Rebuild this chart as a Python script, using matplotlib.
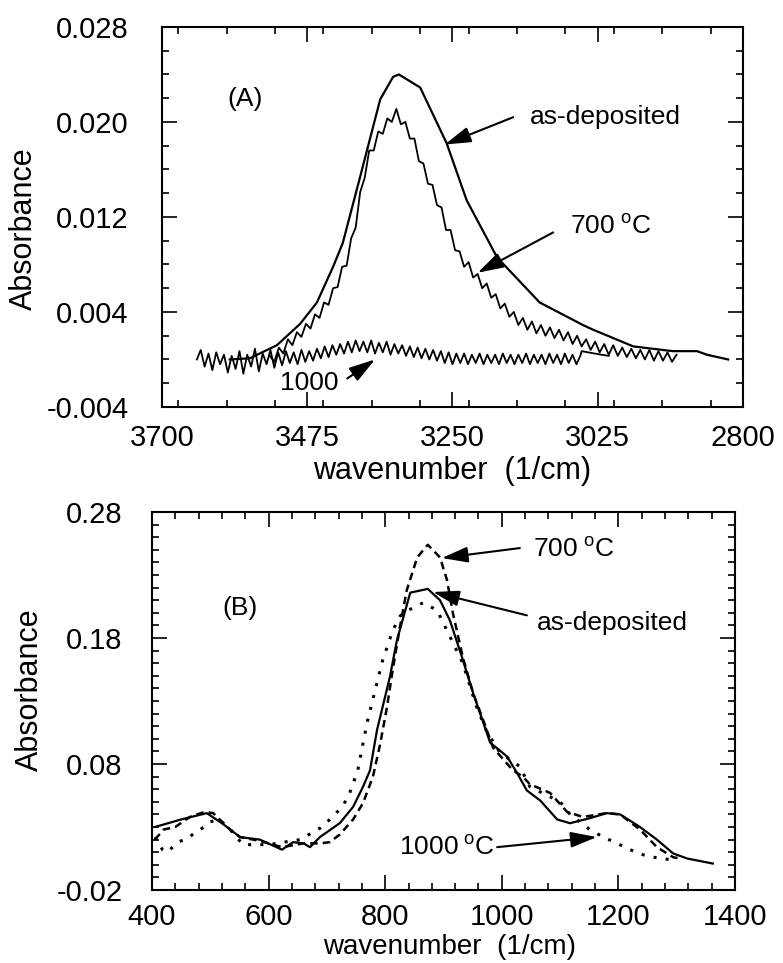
"""
Absorbance spectra of the film, as-deposited and after annealing.
(A) 3700-2800 1/cm stretch band, (B) 400-1400 1/cm region.
"""
import numpy as np
import matplotlib.pyplot as plt
from matplotlib.ticker import MultipleLocator, FormatStrFormatter

plt.rcParams['font.family'] = ['Liberation Sans', 'DejaVu Sans']
plt.rcParams['mathtext.default'] = 'regular'
plt.rcParams['axes.unicode_minus'] = False

# ---------------- panel A ----------------
a_wn_asdep = [3595, 3564, 3522, 3486, 3460, 3435, 3420, 3393, 3362, 3342, 3333,
              3300, 3259, 3228, 3181, 3115, 3048, 3032, 2970, 2909, 2871, 2856, 2823]
a_abs_asdep = [0.0000, 0.0001, 0.0012, 0.0030, 0.0048, 0.0078, 0.0098, 0.0154, 0.0219,
               0.0238, 0.0240, 0.0229, 0.0182, 0.0134, 0.0086, 0.0048, 0.0029, 0.0025,
               0.0011, 0.0007, 0.0007, 0.0004, 0.0000]

# 700 C spectrum, one reading every 7 1/cm from 3533 down to 2903
a_wn_700_range = (3533, 2903)
a_abs_700 = [0.0003, -0.0002, 0.0010, 0.0005, 0.0017, 0.0012, 0.0023, 0.0019, 0.0030, 0.0026,
             0.0038, 0.0035, 0.0048, 0.0046, 0.0060, 0.0061, 0.0078, 0.0079, 0.0102, 0.0111,
             0.0141, 0.0153, 0.0176, 0.0176, 0.0192, 0.0190, 0.0203, 0.0200, 0.0211, 0.0198,
             0.0200, 0.0186, 0.0186, 0.0167, 0.0165, 0.0148, 0.0147, 0.0130, 0.0128, 0.0109,
             0.0109, 0.0092, 0.0091, 0.0078, 0.0082, 0.0069, 0.0072, 0.0060, 0.0064, 0.0052,
             0.0055, 0.0043, 0.0047, 0.0036, 0.0040, 0.0029, 0.0035, 0.0025, 0.0032, 0.0022,
             0.0029, 0.0020, 0.0027, 0.0018, 0.0025, 0.0016, 0.0023, 0.0013, 0.0020, 0.0011,
             0.0017, 0.0008, 0.0015, 0.0006, 0.0013, 0.0004, 0.0012, 0.0003, 0.0010, 0.0002,
             0.0009, 0.0001, 0.0008, 0.0000, 0.0008, -0.0001, 0.0007, -0.0001, 0.0006, -0.0002,
             0.0004]

# 1000 C spectrum, one reading every 6 1/cm from 3646 down to 3052
a_wn_1000_range = (3646, 3052)
a_abs_1000 = [0.0000, 0.0008, -0.0006, 0.0005, -0.0009, 0.0006, -0.0004, 0.0004, -0.0011, 0.0003,
              -0.0008, 0.0007, -0.0012, 0.0004, -0.0006, 0.0009, -0.0010, 0.0005, -0.0004, 0.0008,
              -0.0007, 0.0006, -0.0005, 0.0007, -0.0003, 0.0006, -0.0004, 0.0008, -0.0002, 0.0007,
              -0.0001, 0.0009, 0.0001, 0.0011, 0.0002, 0.0012, 0.0004, 0.0013, 0.0005, 0.0015,
              0.0006, 0.0016, 0.0007, 0.0015, 0.0006, 0.0016, 0.0005, 0.0014, 0.0006, 0.0015,
              0.0004, 0.0013, 0.0005, 0.0012, 0.0003, 0.0011, 0.0002, 0.0010, 0.0001, 0.0009,
              0.0000, 0.0008, -0.0001, 0.0007, -0.0003, 0.0006, -0.0004, 0.0005, -0.0003, 0.0005,
              -0.0004, 0.0004, -0.0003, 0.0005, -0.0004, 0.0004, -0.0003, 0.0004, -0.0004, 0.0005,
              -0.0003, 0.0004, -0.0004, 0.0004, -0.0003, 0.0005, -0.0004, 0.0004, -0.0003, 0.0004,
              -0.0004, 0.0005, -0.0003, 0.0004, -0.0004, 0.0005, -0.0003, 0.0004, -0.0004, 0.0003]
a_wn_1000_end = [3050, 3030, 3008]
a_abs_1000_end = [0.0007, 0.0005, 0.0003]

a_xticks = [3700, 3475, 3250, 3025, 2800]
a_yticks = [-0.004, 0.004, 0.012, 0.020, 0.028]

# ---------------- panel B ----------------
b_wn_asdep = [405, 450, 494, 520, 551, 585, 623, 642, 660, 671, 688, 722, 745, 762, 774,
              786, 808, 820, 843, 873, 894, 911, 933, 951, 980, 1009, 1026, 1043, 1066,
              1095, 1117, 1151, 1180, 1203, 1237, 1266, 1294, 1318, 1362]
b_abs_asdep = [0.030, 0.036, 0.041, 0.033, 0.022, 0.020, 0.012, 0.018, 0.017, 0.014, 0.022,
               0.033, 0.046, 0.062, 0.075, 0.107, 0.149, 0.178, 0.216, 0.219, 0.210, 0.194,
               0.163, 0.136, 0.097, 0.086, 0.073, 0.059, 0.051, 0.036, 0.033, 0.037, 0.041,
               0.040, 0.030, 0.020, 0.009, 0.005, 0.001]

b_wn_700 = [405, 420, 440, 465, 490, 505, 534, 551, 585, 623, 660, 688, 705, 722, 745, 762,
            779, 791, 803, 813, 825, 837, 855, 873, 894, 906, 916, 933, 951, 968, 985, 1019,
            1036, 1048, 1083, 1112, 1139, 1180, 1203, 1237, 1266, 1294, 1306]
b_abs_700 = [0.020, 0.028, 0.030, 0.038, 0.042, 0.041, 0.028, 0.022, 0.019, 0.014, 0.017,
             0.017, 0.018, 0.024, 0.036, 0.049, 0.070, 0.095, 0.125, 0.155, 0.188, 0.218,
             0.244, 0.254, 0.244, 0.226, 0.200, 0.165, 0.136, 0.115, 0.093, 0.075, 0.070,
             0.064, 0.057, 0.042, 0.038, 0.041, 0.040, 0.028, 0.014, 0.006, 0.005]

b_wn_1000 = [405, 418, 426, 445, 460, 486, 499, 515, 534, 556, 600, 654, 688, 705, 722,
             736, 753, 769, 796, 813, 825, 831, 865, 889, 906, 933, 957, 975, 997, 1031,
             1048, 1100, 1117, 1151, 1174, 1198, 1220, 1242, 1271, 1294]
b_abs_1000 = [0.022, 0.012, 0.010, 0.018, 0.021, 0.029, 0.034, 0.036, 0.028, 0.016, 0.016,
              0.020, 0.029, 0.036, 0.044, 0.053, 0.075, 0.113, 0.163, 0.186, 0.197, 0.200,
              0.208, 0.202, 0.186, 0.160, 0.125, 0.105, 0.089, 0.078, 0.062, 0.050, 0.040,
              0.028, 0.022, 0.017, 0.012, 0.008, 0.005, 0.004]

b_xticks = [400, 600, 800, 1000, 1200, 1400]
b_yticks = [-0.02, 0.08, 0.18, 0.28]

DEG_700 = r'700$^{\ o}$C'
DEG_1000 = r'1000$^{\ o}$C'


def style_axes(ax, xminor, yminor, yfmt, ypad, xpad):
    for s in ax.spines.values():
        s.set_linewidth(1.5)
    ax.xaxis.set_minor_locator(MultipleLocator(xminor))
    ax.yaxis.set_minor_locator(MultipleLocator(yminor))
    ax.yaxis.set_major_formatter(FormatStrFormatter(yfmt))
    ax.tick_params(which='both', direction='in', top=True, right=True, width=1.2)
    ax.tick_params(which='major', length=11)
    ax.tick_params(which='minor', length=5)
    ax.tick_params(axis='y', labelsize=21, pad=ypad)
    ax.tick_params(axis='x', labelsize=21, pad=xpad)


def arrow(ax, tip, tail):
    ax.annotate('', xy=tip, xytext=tail,
                arrowprops=dict(arrowstyle='-|>,head_length=1.0,head_width=0.3',
                                lw=1.5, color='k', shrinkA=0, shrinkB=0,
                                mutation_scale=16))


fig = plt.figure(figsize=(7.83, 9.63), dpi=100)

# ===== (A) =====
axA = fig.add_axes([0.2069, 0.5774, 0.7420, 0.3946])
wn700 = np.linspace(a_wn_700_range[0], a_wn_700_range[1], len(a_abs_700))
wn1000 = np.linspace(a_wn_1000_range[0], a_wn_1000_range[1], len(a_abs_1000))
axA.plot(a_wn_asdep, a_abs_asdep, color='k', lw=1.6)
axA.plot(wn700, a_abs_700, color='k', lw=1.3)
axA.plot(np.concatenate([wn1000, a_wn_1000_end]),
         np.concatenate([a_abs_1000, a_abs_1000_end]), color='k', lw=1.3)
axA.set_xlim(3700, 2800)
axA.set_ylim(-0.004, 0.028)
axA.set_xticks(a_xticks)
axA.set_yticks(a_yticks)
style_axes(axA, 75, 0.002, '%.3f', 24, 12)
axA.set_xlabel('wavenumber  (1/cm)', fontsize=22)
axA.set_ylabel('Absorbance', fontsize=22)
axA.xaxis.set_label_coords(0.50, -0.13)
axA.yaxis.set_label_coords(-0.212, 0.47)

axA.text(3571, 0.0219, '(A)', fontsize=19, ha='center', va='center')
axA.text(3130, 0.0204, 'as-deposited', fontsize=19, ha='left', va='center')
arrow(axA, (3262, 0.0181), (3156, 0.0204))
axA.text(3068, 0.0112, DEG_700, fontsize=19, ha='left', va='center')
arrow(axA, (3211, 0.0073), (3094, 0.0107))
axA.text(3472, -0.0020, '1000', fontsize=19, ha='center', va='center')
arrow(axA, (3370, 0.0000), (3413, -0.0016))

# ===== (B) =====
axB = fig.add_axes([0.1941, 0.0758, 0.7446, 0.3925])
axB.plot(b_wn_asdep, b_abs_asdep, color='k', lw=1.6)
axB.plot(b_wn_700, b_abs_700, color='k', lw=1.8, linestyle=(0, (3, 2)))
axB.plot(b_wn_1000, b_abs_1000, color='k', lw=2.2, linestyle=(0, (1, 3)))
axB.set_xlim(400, 1400)
axB.set_ylim(-0.02, 0.28)
axB.set_xticks(b_xticks)
axB.set_yticks(b_yticks)
style_axes(axB, 40, 0.01, '%.2f', 21, 9)
axB.set_xlabel('wavenumber  (1/cm)', fontsize=20)
axB.set_ylabel('Absorbance', fontsize=22)
axB.xaxis.set_label_coords(0.51, -0.116)
axB.yaxis.set_label_coords(-0.184, 0.53)

axB.text(551, 0.204, '(B)', fontsize=19, ha='center', va='center')
axB.text(1053, 0.250, DEG_700, fontsize=19, ha='left', va='center')
arrow(axB, (897, 0.2435), (1031, 0.2514))
axB.text(1060, 0.192, 'as-deposited', fontsize=19, ha='left', va='center')
arrow(axB, (882, 0.2165), (1043, 0.198))
axB.text(988, 0.0133, DEG_1000, fontsize=19, ha='right', va='center')
arrow(axB, (1163, 0.022), (992, 0.014))

fig.savefig('out.png', dpi=100)
